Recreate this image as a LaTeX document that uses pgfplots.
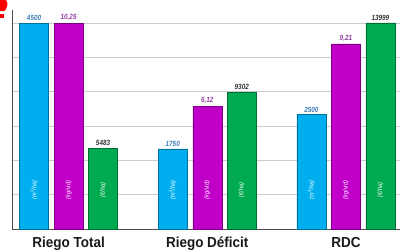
\documentclass[border=0pt]{standalone}
\usepackage{pgfplots}
\pgfplotsset{compat=1.18}
\usepackage{fontspec}
\setmainfont{Liberation Sans}
\newfontfamily\cond[FakeStretch=0.93]{Liberation Sans}
\newfontfamily\condnum[FakeStretch=0.85]{Liberation Sans}
\definecolor{cBlue}{HTML}{00AEEF}
\definecolor{cMag}{HTML}{C000C8}
\definecolor{cGreen}{HTML}{00AA50}
\definecolor{lBlue}{HTML}{3E7CB5}
\definecolor{lMag}{HTML}{8E3FA0}
\definecolor{lGreen}{HTML}{333333}
\pgfplotsset{
  base/.style={width=388pt,height=219pt,scale only axis,at={(0pt,0pt)},anchor=south west,
    xmin=-0.408,xmax=2.39,ymin=0,ybar,bar width=29pt,clip=false,
    /pgf/number format/assume math mode=true},
  vlab/.style={nodes near coords,nodes near coords style={font=\condnum\bfseries\itshape\fontsize{7.5}{8}\selectfont,text=#1,inner sep=2pt}}
}
\tikzset{unit/.style={rotate=90,text=white,font=\condnum\itshape\fontsize{6.5}{7}\selectfont,inner sep=0pt}}
\begin{document}
\begin{tikzpicture}
\path[use as bounding box] (-12pt,-21pt) rectangle (389pt,229pt);
\fill[red] (-12pt,229pt) -- (-6pt,229pt) .. controls (-4pt,225pt) .. (-6pt,220pt) -- (-8pt,218pt) -- (-12pt,218pt) -- cycle;
\fill[red] (-12pt,215pt) rectangle (-8pt,211pt);
% blue series + frame
\begin{axis}[base,ymax=4784,
  axis x line*=bottom,axis y line*=left,
  axis line style={draw=gray!60!black,line width=0.7pt},
  ytick={0,750,...,4500},yticklabels={},
  ymajorgrids,grid style={draw=gray!40,line width=0.8pt},
  major tick length=0pt,
  xtick={0,1,2},xticklabels={Riego Total,Riego Déficit,RDC},
  xticklabel style={font=\cond\bfseries\fontsize{14.5}{16}\selectfont,text=black!90,anchor=base,yshift=-18.7pt},
  /pgf/number format/1000 sep={}]
\addplot[fill=cBlue,draw=cBlue!65!black,line width=0.5pt,bar shift=-34.5pt,vlab=lBlue]
  coordinates {(0,4500) (1,1750) (2,2500)};
\node[unit] at (axis cs:-0.2488,852) {(m\textsuperscript{3}/ha)};
\node[unit] at (axis cs:0.7512,852) {(m\textsuperscript{3}/ha)};
\node[unit] at (axis cs:1.7512,852) {(m\textsuperscript{3}/ha)};
\end{axis}
% magenta series
\begin{axis}[base,ymax=10.897,hide axis,
  /pgf/number format/.cd,fixed,fixed zerofill,precision=2,use comma]
\addplot[fill=cMag,draw=cMag!65!black,line width=0.5pt,bar shift=0pt,vlab=lMag]
  coordinates {(0,10.25) (1,6.12) (2,9.21)};
\end{axis}
% green series
\begin{axis}[base,ymax=14882,hide axis,/pgf/number format/1000 sep={}]
\addplot[fill=cGreen,draw=cGreen!65!black,line width=0.5pt,bar shift=34.5pt,vlab=lGreen]
  coordinates {(0,5483) (1,9302) (2,13999)};
\end{axis}
% unit labels on top of magenta/green bars
\begin{axis}[base,ymax=4784,hide axis]
\node[unit] at (axis cs:0,852) {(kg/vid)};
\node[unit] at (axis cs:0.2488,852) {(€/ha)};
\node[unit] at (axis cs:1,852) {(kg/vid)};
\node[unit] at (axis cs:1.2488,852) {(€/ha)};
\node[unit] at (axis cs:2,852) {(kg/vid)};
\node[unit] at (axis cs:2.2488,852) {(€/ha)};
\end{axis}
\end{tikzpicture}
\end{document}
